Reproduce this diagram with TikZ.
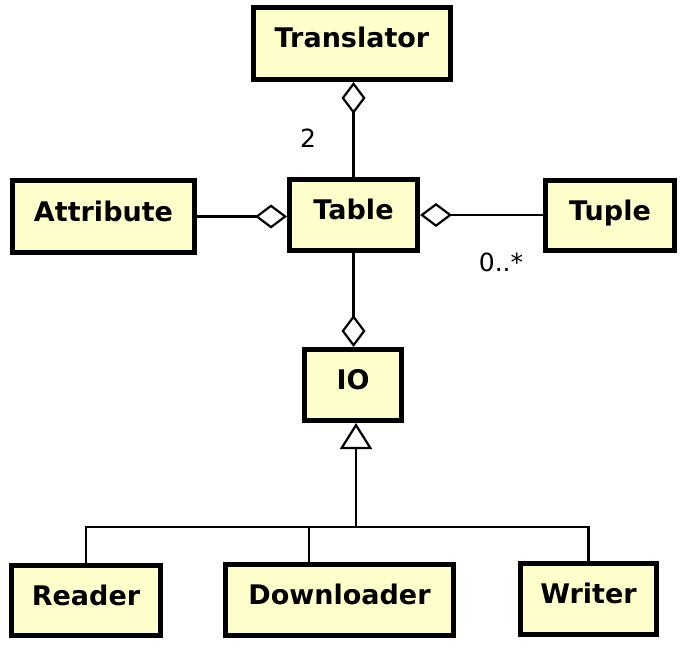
\documentclass[tikz,border=0pt]{standalone}
\usepackage{fontspec}
\setmainfont{DejaVu Sans}
\usetikzlibrary{arrows.meta}
\definecolor{clsfill}{RGB}{255,255,204}
\begin{document}
\begin{tikzpicture}[x=1pt,y=-1pt,
  cls/.style={draw=black, line width=5pt, fill=clsfill, inner sep=0pt,
    text height=20pt, text depth=11pt, font=\fontsize{27}{32}\selectfont\bfseries},
  conn/.style={line width=2.2pt},
  agg/.style={conn, -{Diamond[length=32pt,width=24pt,fill=white]}},
  inh/.style={conn, -{Triangle[length=26pt,width=32pt,fill=white]}},
  mult/.style={font=\fontsize{25}{30}\selectfont, inner sep=0pt}]
\useasboundingbox (0,0) rectangle (692,652);
% classes
\node[cls, minimum width=197pt, minimum height=72pt] (tr) at (352,43.5) {Translator};
\node[cls, minimum width=182pt, minimum height=72pt] (at) at (103.5,216.5) {Attribute};
\node[cls, minimum width=128pt, minimum height=71pt] (tb) at (353.5,215) {Table};
\node[cls, minimum width=129pt, minimum height=70pt] (tu) at (610,215.5) {Tuple};
\node[cls, minimum width=97pt, minimum height=71pt] (io) at (353,385) {IO};
\node[cls, minimum width=149pt, minimum height=70pt] (rd) at (86,600.5) {Reader};
\node[cls, minimum width=228pt, minimum height=71pt] (dl) at (339.5,600) {Downloader};
\node[cls, minimum width=136pt, minimum height=71pt] (wr) at (588.5,599) {Writer};
% aggregations
\draw[agg] (tb.north) -- (tb.north |- tr.south);
\draw[agg] (at.east) -- (at.east -| tb.west);
\draw[agg] (tb.east -| tu.west) -- (tb.east);
\draw[agg] (tb.south) -- (tb.south |- io.north);
% generalisation
\path (io.south) ++(3,104) coordinate (j);
\draw[inh] (j) -- (j |- io.south);
\draw[conn] (rd.north) |- (j) -| (wr.north);
\path (dl.north) ++(-30.5,0) coordinate (dlt);
\draw[conn] (dlt) -- (dlt |- j);
% multiplicities
\node[mult] (m2) at (308,138) {2};
\node[mult] (m0) at (501,262) {0..*};
\end{tikzpicture}
\end{document}
